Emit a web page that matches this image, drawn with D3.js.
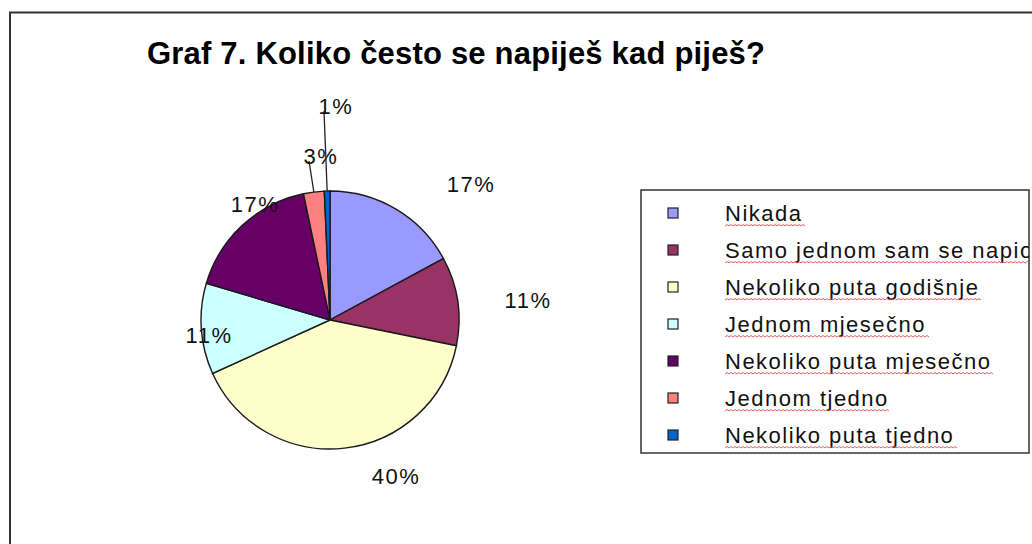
<!DOCTYPE html>
<html><head><meta charset="utf-8">
<script src="https://cdn.jsdelivr.net/npm/d3@7"></script>
<style>
html,body{margin:0;padding:0;background:#fff;overflow:hidden}
svg{display:block}
text{font-family:"Liberation Sans",Arial,sans-serif}
</style></head>
<body><svg id="c" width="1032" height="544"></svg>
<script>
const title = "Graf 7. Koliko često se napiješ kad piješ?";
const categories = ["Nikada","Samo jednom sam se napio/la","Nekoliko puta godišnje","Jednom mjesečno","Nekoliko puta mjesečno","Jednom tjedno","Nekoliko puta tjedno"];
const values = [17.1, 11.1, 40.0, 11.4, 17.1, 2.6, 0.7];
const colors = ["#9999FF","#993366","#FFFFCC","#CCFFFF","#660066","#FF8080","#0066CC"];
// label layout offsets (relative to pie centre), leader flag
const labelOffsets = [[141,-136],[198,-20],[66,156],[-121,15],[-75,-116],[-9,-164],[6,-214]];
const leaders = [false,false,false,false,false,true,true];

const svg = d3.select("#c");
// chart border
svg.append("rect").attr("x",10).attr("y",12.5).attr("width",1060).attr("height",560)
  .attr("fill","#fff").attr("stroke","#333").attr("stroke-width",2);

svg.append("text").attr("x",147).attr("y",64).attr("font-size",31).attr("font-weight","bold")
  .attr("textLength",618).attr("lengthAdjust","spacing")
  .attr("fill","#000").text(title);

const cx=330, cy=320, r=129;
const total = d3.sum(values);
const pie = d3.pie().sort(null).value(d=>d)(values);
const arc = d3.arc().innerRadius(0).outerRadius(r);
const g = svg.append("g").attr("transform",`translate(${cx},${cy})`);
g.selectAll("path").data(pie).join("path")
  .attr("d",arc).attr("fill",(d,i)=>colors[i]).attr("stroke","#1a1a1a").attr("stroke-width",1.4);

const fmt = v => Math.round(v/total*100)+"%";
pie.forEach((d,i)=>{
  const [dx,dy] = labelOffsets[i];
  if(leaders[i]){
    const a = (d.startAngle+d.endAngle)/2;
    g.append("line").attr("x1",dx-12).attr("y1",dy+5)
      .attr("x2",r*Math.sin(a)).attr("y2",-r*Math.cos(a))
      .attr("stroke","#222").attr("stroke-width",1.3);
  }
  g.append("text").attr("x",dx).attr("y",dy).attr("text-anchor","middle")
    .attr("dominant-baseline","central").attr("font-size",22).attr("letter-spacing",1.5)
    .attr("fill","#111").text(fmt(d.value));
});

// legend
const lx=641, ly=190, lw=388, lh=263;
svg.append("clipPath").attr("id","lc").append("rect").attr("x",lx).attr("y",ly).attr("width",lw).attr("height",lh);
svg.append("rect").attr("x",lx).attr("y",ly).attr("width",lw).attr("height",lh)
  .attr("fill","#fff").attr("stroke","#333").attr("stroke-width",1.5);
const lg = svg.append("g").attr("clip-path","url(#lc)");
const rowY = d3.scalePoint().domain(categories).range([213,435]);
categories.forEach((c,i)=>{
  const y = rowY(c);
  lg.append("rect").attr("x",668).attr("y",y-5).attr("width",10).attr("height",10)
    .attr("fill",colors[i]).attr("stroke","#222").attr("stroke-width",1.2);
  const t = lg.append("text").attr("x",725).attr("y",y).attr("dominant-baseline","central")
    .attr("font-size",22).attr("letter-spacing",1.5).attr("fill","#111").text(c);
  const w = t.node().getComputedTextLength();
  let p = `M725,${y+13}`;
  for(let x=725;x<725+w;x+=4){ p += ` L${x+2},${y+11.5} L${x+4},${y+13}`; }
  lg.append("path").attr("d",p).attr("fill","none").attr("stroke","#e05050").attr("stroke-width",0.9);
});
</script></body></html>
